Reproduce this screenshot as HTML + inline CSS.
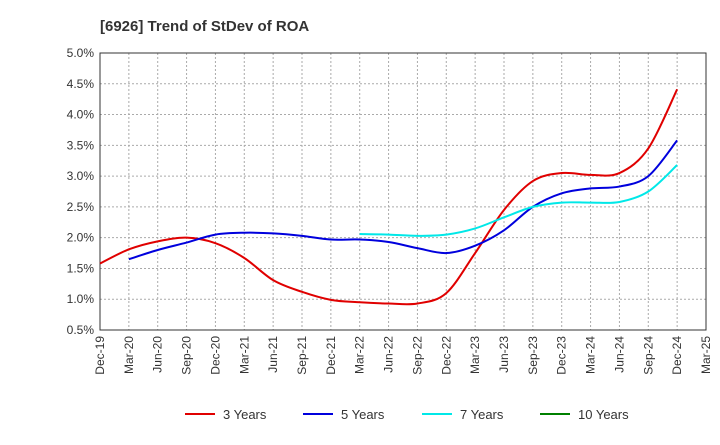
<!DOCTYPE html>
<html><head><meta charset="utf-8"><style>
body{margin:0;background:#fff;font-family:"Liberation Sans",Arial,sans-serif}
svg text{font-family:"Liberation Sans",Arial,sans-serif}
</style></head><body>
<svg id="chart" width="720" height="440" xmlns="http://www.w3.org/2000/svg">
<text x="100" y="31" font-size="15" font-weight="bold" fill="#333">[6926]  Trend of StDev of ROA</text>
<g id="grid"></g><g id="axes"></g><g id="series"></g><g id="legend"></g>
</svg>
<script>
const xLabels=["Dec-19","Mar-20","Jun-20","Sep-20","Dec-20","Mar-21","Jun-21","Sep-21","Dec-21","Mar-22","Jun-22","Sep-22","Dec-22","Mar-23","Jun-23","Sep-23","Dec-23","Mar-24","Jun-24","Sep-24","Dec-24","Mar-25"];
const yTicks=[0.5,1.0,1.5,2.0,2.5,3.0,3.5,4.0,4.5,5.0];
const s3=[1.58,1.81,1.94,2.00,1.91,1.67,1.31,1.12,0.99,0.95,0.93,0.93,1.10,1.75,2.45,2.92,3.05,3.02,3.05,3.45,4.41];
const s5=[null,1.65,1.80,1.92,2.05,2.08,2.07,2.03,1.97,1.97,1.93,1.83,1.75,1.87,2.12,2.50,2.72,2.80,2.83,3.00,3.58];
const s7=[null,null,null,null,null,null,null,null,null,2.06,2.05,2.03,2.05,2.15,2.33,2.50,2.57,2.57,2.58,2.75,3.18];
const s10=[];
const NS="http://www.w3.org/2000/svg";
const L=100,R=706,T=53,B=330;
const xs=i=>L+i*(R-L)/(xLabels.length-1);
const ys=v=>B-(v-0.5)*(B-T)/4.5;
function mk(tag,attrs,parent){const e=document.createElementNS(NS,tag);for(const k in attrs)e.setAttribute(k,attrs[k]);parent.appendChild(e);return e;}
const grid=document.getElementById('grid'),axes=document.getElementById('axes'),ser=document.getElementById('series'),leg=document.getElementById('legend');
yTicks.forEach(v=>{
 const l=mk('line',{x1:L,x2:R,y1:ys(v),y2:ys(v),stroke:'#aaa','stroke-dasharray':'2,2'},grid);
 
 
 const t=mk('text',{x:L-6,y:ys(v)+4,'text-anchor':'end','font-size':12,fill:'#333'},axes);
 t.textContent=v.toFixed(1)+'%';
 
 
});
xLabels.forEach((s,i)=>{
 const x=xs(i);
 const l=mk('line',{x1:x,x2:x,y1:T,y2:B,stroke:'#aaa','stroke-dasharray':'2,2'},grid);
 
 
 const t=mk('text',{x:x+4,y:B+6,'text-anchor':'end','font-size':12,fill:'#333',transform:`rotate(-90 ${x+4} ${B+6})`},axes);
 t.textContent=s;
 
 
});
const frame=mk('rect',{x:L,y:T,width:R-L,height:B-T,fill:'none',stroke:'#333'},axes);


function path(arr){
 const p=[];arr.forEach((v,i)=>{if(v!=null)p.push([xs(i),ys(v)]);});
 if(!p.length)return '';
 let d=`M${p[0][0]},${p[0][1]}`;
 for(let i=0;i<p.length-1;i++){
  const p0=p[i-1]||p[i],p1=p[i],p2=p[i+1],p3=p[i+2]||p2;
  const c1=[p1[0]+(p2[0]-p0[0])/6,p1[1]+(p2[1]-p0[1])/6],c2=[p2[0]-(p3[0]-p1[0])/6,p2[1]-(p3[1]-p1[1])/6];
  d+=`C${c1[0]},${c1[1]} ${c2[0]},${c2[1]} ${p2[0]},${p2[1]}`;
 }
 return d;
}
const series=[["3 Years",s3,"#e00000","series-3-years"],["5 Years",s5,"#0000dd","series-5-years"],["7 Years",s7,"#00e8e8","series-7-years"],["10 Years",s10,"#008000","series-10-years"]];
const lx=[185,303,422,540];
series.forEach(([name,arr,c,dn],k)=>{
 const d=path(arr);
 if(d){const p=mk('path',{d:d,fill:'none',stroke:c,'stroke-width':2},ser);
  
  }
 const g=mk('g',{},leg);
 
 
 mk('line',{x1:lx[k],x2:lx[k]+30,y1:414,y2:414,stroke:c,'stroke-width':2},g);
 const t=mk('text',{x:lx[k]+38,y:419,'font-size':13,fill:'#333'},g);
 t.textContent=name;
});
</script>
</body></html>
